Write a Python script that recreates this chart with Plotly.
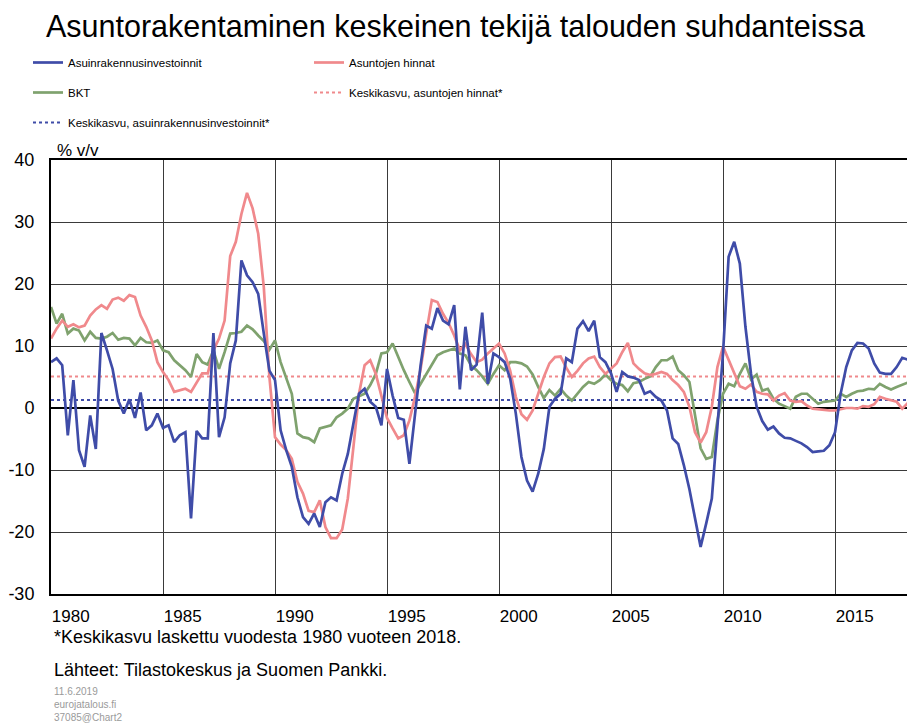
import plotly.graph_objects as go

# ---------------- data (quarterly, 1980Q1 ->) ----------------
START_YEAR = 1980
QUARTERS_PER_YEAR = 4

asuinrakennusinvestoinnit = [
    7.4, 8.0, 6.9, -4.4, 4.5, -6.8, -9.5, -1.2, -6.6, 12.1,
    9.3, 6.3, 1.2, -0.9, 1.4, -1.6, 2.5, -3.6, -2.8, -0.9,
    -3.2, -2.8, -5.5, -4.4, -3.9, -17.8, -3.7, -4.9, -4.9, 12.1,
    -4.7, -1.5, 7.2, 10.9, 23.8, 21.4, 20.3, 18.4, 12.0, 6.0,
    4.5, -3.6, -6.8, -9.5, -14.4, -17.6, -18.7, -17.0, -19.2, -15.2,
    -14.4, -14.9, -10.6, -7.4, -2.5, 2.3, 3.1, 1.0, 0.2, -2.8,
    6.3, 2.0, -1.6, -1.9, -9.0, -0.9, 6.9, 13.3, 12.8, 16.1,
    14.1, 13.5, 16.6, 3.0, 13.1, 6.1, 7.0, 15.4,
    3.9, 8.8, 8.2, 7.4, 4.7, -0.9, -7.9, -11.7, -13.5, -10.6,
    -6.6, 0.2, 1.5, 2.3, 8.0, 7.4, 12.8, 14.0, 12.4, 14.1,
    8.2, 7.4, 5.6, 2.6, 5.8, 5.1, 4.9, 4.5, 2.3, 2.7,
    1.8, 1.2, -0.4, -4.9, -5.8, -9.2, -13.1, -17.8, -22.4,
    -18.6, -14.6, -3.0, 8.8, 24.4, 26.8, 23.3, 13.1, 5.5, 0.2,
    -2.1, -3.5, -3.0, -4.1, -4.8, -4.9, -5.3, -5.7, -6.3, -7.1,
    -7.0, -6.9, -6.0, -3.9, 2.3, 6.6, 9.3, 10.5, 10.4, 9.6,
    7.2, 5.7, 5.5, 5.5, 6.6, 8.1, 7.8, 5.8,
]

asuntojen_hinnat = [
    11.2, 12.8, 14.1, 13.1, 13.5, 13.0, 13.3, 14.9, 15.9, 16.6,
    16.0, 17.5, 17.8, 17.3, 18.2, 17.9, 14.9, 13.1, 10.9, 7.4,
    5.8, 4.5, 2.6, 2.8, 3.1, 2.6, 4.2, 5.6, 5.6, 9.3,
    11.2, 14.1, 24.5, 26.8, 31.3, 34.7, 32.2, 28.1, 19.5, 5.0,
    -4.7, -5.9, -6.8, -8.2, -11.9, -13.8, -16.6, -16.8, -14.9, -19.2,
    -21.0, -21.0, -19.6, -14.6, -6.3, 2.3, 6.9, 7.7, 5.5, 1.8,
    -1.6, -3.3, -4.9, -4.4, -2.0, 1.8, 6.3, 12.0, 17.4, 17.1,
    15.2, 13.7, 11.7, 9.3, 10.3, 8.7, 7.4, 7.8,
    8.8, 9.6, 10.4, 8.8, 6.0, 1.8, -1.0, -1.9, -0.4, 2.3,
    5.0, 7.2, 8.2, 8.3, 6.5, 5.0, 6.0, 7.2, 8.0, 8.3,
    6.6, 5.5, 6.3, 7.2, 9.0, 10.5, 7.2, 6.3, 5.6, 5.3,
    5.5, 5.8, 5.5, 4.5, 3.7, 2.6, 0.2, -3.9, -5.6,
    -3.9, 0.2, 6.6, 9.9, 7.7, 5.5, 3.5, 3.1, 3.8, 2.6,
    2.3, 2.2, 1.2, 2.0, 2.4, 1.2, 1.0, 1.1, 0.4, -0.1,
    -0.2, -0.4, -0.4, -0.4, -0.2, 0.0, 0.0, -0.1, 0.3, 0.2,
    0.6, 1.8, 1.5, 1.3, 1.0, -0.1, 0.8, 1.5,
]

bkt = [
    16.3, 13.6, 15.2, 12.0, 12.8, 12.5, 10.9, 12.3, 11.3, 11.2,
    11.5, 12.1, 11.0, 11.3, 11.2, 10.1, 11.3, 10.6, 10.5, 10.9,
    9.3, 9.0, 7.7, 6.9, 6.1, 5.0, 8.7, 7.4, 7.0, 9.3,
    6.3, 9.0, 12.0, 12.1, 12.3, 13.3, 12.7, 11.7, 10.8, 9.4,
    10.9, 7.4, 5.0, 2.3, -4.1, -4.7, -4.9, -5.5, -3.3, -3.1,
    -2.8, -1.5, -0.9, -0.1, 1.5, 1.9, 2.3, 3.7, 5.5, 8.8,
    9.0, 10.4, 8.2, 6.1, 4.2, 2.4, 3.9, 5.5, 6.9, 8.5,
    9.0, 9.3, 9.6, 8.8, 8.5, 6.9, 6.1, 5.1,
    3.9, 5.5, 6.9, 6.1, 7.4, 7.4, 7.2, 6.7, 5.4, 3.4,
    1.6, 2.9, 2.0, 3.1, 2.0, 1.2, 2.3, 3.4, 4.2, 3.9,
    4.5, 5.4, 4.5, 3.9, 3.7, 2.7, 4.0, 4.2, 4.7, 5.1,
    6.6, 7.7, 7.7, 8.3, 6.1, 5.3, 4.2, -0.9, -6.5,
    -8.2, -7.9, -2.0, 2.3, 3.9, 3.5, 5.5, 7.2, 4.6, 5.4,
    2.8, 3.1, 1.5, 0.7, 0.3, -0.1, 1.8, 2.3, 2.3, 1.5,
    0.7, 1.0, 1.1, 1.2, 2.3, 1.8, 2.3, 2.7, 2.8, 3.1,
    3.0, 3.9, 3.4, 3.0, 3.4, 3.8, 4.1, 4.4,
]

keskikasvu_asuntojen_hinnat = 5.1
keskikasvu_asuinrakennus = 1.3

x_tick_years = [1980, 1985, 1990, 1995, 2000, 2005, 2010, 2015]
x_tick_labels = ["1980", "1985", "1990", "1995", "2000", "2005", "2010", "2015"]
y_ticks = [40, 30, 20, 10, 0, -10, -20, -30]
y_tick_labels = ["40", "30", "20", "10", "0", "-10", "-20", "-30"]
X_END = 2018.57

n = len(asuinrakennusinvestoinnit)
x = [START_YEAR + i / QUARTERS_PER_YEAR for i in range(n)]

BLUE = "#3F4CA8"
PINK = "#F0898C"
GREEN = "#7FA26E"
FONT = "Liberation Sans, Arial, sans-serif"

# the page adds an 8px body margin; lay out in window pixels minus that offset
OFF = 8
W, H = 915 - OFF, 725 - OFF
PL, PR, PT, PB = 51 - OFF, 915 - OFF, 160 - OFF, 594 - OFF


def px(xp):
    return (xp - OFF - PL) / (PR - PL)


def py(yp):
    return (PB - (yp - OFF)) / (PB - PT)


def cx(xp):
    return (xp - OFF) / W


def cy(yp):
    return 1 - (yp - OFF) / H


fig = go.Figure()

fig.add_trace(go.Scatter(
    x=[START_YEAR, X_END], y=[keskikasvu_asuntojen_hinnat] * 2, mode="lines",
    line=dict(color=PINK, width=2, dash="dot"),
    name="Keskikasvu, asuntojen hinnat*", legend="legend2", legendrank=2,
    legendgroup="g4"))
fig.add_trace(go.Scatter(
    x=[START_YEAR, X_END], y=[keskikasvu_asuinrakennus] * 2, mode="lines",
    line=dict(color=BLUE, width=2, dash="dot"),
    name="Keskikasvu, asuinrakennusinvestoinnit*", legend="legend", legendrank=3,
    legendgroup="g5"))

fig.add_trace(go.Scatter(x=x, y=bkt, mode="lines", line=dict(color=GREEN, width=2.7),
                         name="BKT", legend="legend", legendrank=2, legendgroup="g3"))
fig.add_trace(go.Scatter(x=x, y=asuntojen_hinnat, mode="lines", line=dict(color=PINK, width=2.7),
                         name="Asuntojen hinnat", legend="legend2", legendrank=1, legendgroup="g2"))
fig.add_trace(go.Scatter(x=x, y=asuinrakennusinvestoinnit, mode="lines",
                         line=dict(color=BLUE, width=2.7),
                         name="Asuinrakennusinvestoinnit", legend="legend", legendrank=1,
                         legendgroup="g1"))
fig.add_trace(go.Scatter(x=[None], y=[None], xaxis="x2", showlegend=False, hoverinfo="skip"))

legend_common = dict(
    xref="container", yref="container", xanchor="left", yanchor="top",
    orientation="v", traceorder="grouped", tracegroupgap=11,
    font=dict(family=FONT, size=11.5, color="black"),
    bgcolor="rgba(0,0,0,0)", borderwidth=0,
)

fig.update_layout(
    width=W, height=H,
    margin=dict(l=PL, r=W - PR, t=PT, b=H - PB, autoexpand=False),
    paper_bgcolor="white", plot_bgcolor="white",
    font=dict(family=FONT, color="black"),
    title=dict(text="Asuntorakentaminen keskeinen tekijä talouden suhdanteissa",
               x=cx(46), xanchor="left", xref="container",
               y=cy(26), yanchor="middle", yref="container",
               font=dict(family=FONT, size=30.5, color="black")),
    legend=dict(x=cx(28), y=cy(48), **legend_common),
    legend2=dict(x=cx(309), y=cy(48), **legend_common),
    xaxis=dict(range=[START_YEAR, X_END], tickvals=x_tick_years, showticklabels=False,
               showgrid=True, gridcolor="#3a3a3a", gridwidth=1, ticks="",
               showline=True, linecolor="black", linewidth=2, mirror=True,
               zeroline=False),
    xaxis2=dict(overlaying="x", matches="x", side="bottom",
                tickvals=[v + 0.88 for v in x_tick_years], ticktext=x_tick_labels,
                showgrid=False, ticks="", showline=False, zeroline=False,
                ticklabelstandoff=10,
                tickfont=dict(family=FONT, size=17, color="black")),
    yaxis=dict(range=[-30, 40], tickvals=y_ticks, ticktext=y_tick_labels,
               showgrid=True, gridcolor="#3a3a3a",
               gridwidth=1, zeroline=True, zerolinecolor="black", zerolinewidth=2,
               showline=True, linecolor="black", linewidth=2, ticks="",
               ticklabelstandoff=11,
               tickfont=dict(family=FONT, size=18, color="black")),
    showlegend=True,
)

notes = [
    ("% v/v", 55, 151, 17, "black"),
    ("*Keskikasvu laskettu vuodesta 1980 vuoteen 2018.", 52, 637, 18, "black"),
    ("Lähteet: Tilastokeskus ja Suomen Pankki.", 52, 670, 18, "black"),
    ("11.6.2019", 52, 691, 10, "#9a9a9a"),
    ("eurojatalous.fi", 52, 704, 10, "#9a9a9a"),
    ("37085@Chart2", 52, 717, 10, "#9a9a9a"),
]
for text, xp, yp, size, color in notes:
    fig.add_annotation(text=text, xref="paper", yref="paper", x=px(xp), y=py(yp),
                       xanchor="left", yanchor="middle", showarrow=False,
                       font=dict(family=FONT, size=size, color=color))

fig.write_html("out.html")
